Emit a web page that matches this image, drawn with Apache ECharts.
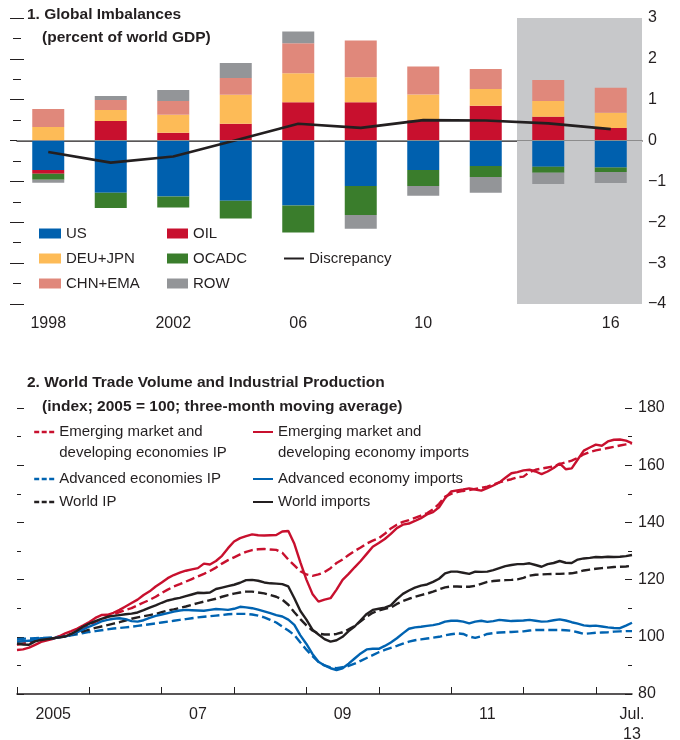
<!DOCTYPE html>
<html>
<head>
<meta charset="utf-8">
<script src="https://cdn.jsdelivr.net/npm/echarts@6/dist/echarts.min.js"></script>
<style>
  html, body { margin: 0; padding: 0; background: #fff; }
  #main { width: 680px; height: 740px; }
</style>
</head>
<body>
<div id="main"></div>
<script>
var FONT = "'Liberation Sans', Arial, sans-serif";
var INK = '#231f20';

// ---- panel 1: global imbalances (percent of world GDP)
var years = ['1998', '2000', '2002', '2004', '2006', '2008', '2010', '2012', '2014', '2016'];
var yearLabels = { '1998': '1998', '2002': '2002', '2006': '06', '2010': '10', '2016': '16' };
var us = [-0.72, -1.28, -1.37, -1.47, -1.59, -1.11, -0.72, -0.62, -0.64, -0.66];
var oil = [-0.09, 0.48, 0.19, 0.41, 0.94, 0.94, 0.50, 0.85, 0.58, 0.31];
var deuJpn = [0.33, 0.27, 0.44, 0.71, 0.71, 0.61, 0.63, 0.41, 0.39, 0.37];
var ocadc = [-0.15, -0.37, -0.27, -0.44, -0.66, -0.71, -0.39, -0.27, -0.15, -0.11];
var chnEma = [0.44, 0.24, 0.34, 0.41, 0.73, 0.90, 0.68, 0.49, 0.51, 0.61];
var rowBal = [-0.07, 0.10, 0.27, 0.37, 0.29, -0.34, -0.24, -0.39, -0.27, -0.27];
var discrepancy = [-0.28, -0.54, -0.39, 0.01, 0.41, 0.31, 0.50, 0.49, 0.42, 0.28];

// ---- panel 2: trade volume and IP, monthly Jan 2005 - Jul 2013
var months = [];
for (var y = 2005; y <= 2013; y++) {
  for (var m = 1; m <= 12; m++) {
    if (y === 2013 && m > 7) break;
    months.push(y + '-' + (m < 10 ? '0' : '') + m);
  }
}
var monthLabels = { 6: '2005', 30: '07', 54: '09', 78: '11', 102: 'Jul.\n13' };

var emImports = [
  95.4, 95.6, 96.2, 97.2, 98.2, 98.8, 99.3, 100.2, 101.2, 102.0, 102.9, 104.0,
  105.2, 106.6, 107.6, 107.7, 108.4, 109.4, 110.6, 111.8, 113.0, 114.6, 115.9, 117.6,
  119.0, 120.5, 121.6, 122.4, 123.1, 123.6, 124.0, 125.6, 125.3, 126.5, 128.3, 131.0,
  133.3, 134.5, 135.2, 135.8, 135.5, 135.4, 135.5, 135.6, 136.8, 137.0, 132.5, 126.0,
  120.0, 115.0, 112.3, 113.0, 113.5, 116.5, 119.9, 122.0, 124.3, 126.5, 129.0, 131.5,
  132.8, 134.2, 136.0, 138.0, 139.2, 139.6, 140.5, 141.5, 142.8, 143.6, 145.3, 148.5,
  150.8, 151.2, 151.5, 151.9, 151.5, 151.1, 152.0, 152.9, 154.0, 155.6, 157.2, 157.6,
  158.2, 158.4, 157.8, 156.9, 157.8, 159.0, 160.6, 158.6, 158.9, 162.0, 165.1, 166.2,
  167.2, 166.8, 168.3, 168.9, 169.0, 168.6, 167.7
];
var emIP = [
  97.2, 97.6, 98.0, 98.6, 99.0, 99.3, 99.6, 99.8, 100.2, 101.0, 101.8, 102.8,
  104.0, 105.2, 106.2, 107.0, 107.8, 108.6, 109.4, 110.0, 111.0, 112.0, 112.9, 114.0,
  115.3, 116.5, 117.6, 118.4, 119.3, 120.2, 121.1, 122.0, 123.0, 124.2, 125.6, 126.8,
  127.8, 128.8, 129.7, 130.3, 130.6, 130.7, 130.5, 130.4, 129.4, 127.0, 125.0, 122.9,
  121.8, 121.3, 121.8, 122.6, 124.0, 125.8, 127.0, 128.6, 130.0, 131.2, 132.6, 133.6,
  134.5, 136.0, 137.9, 139.2, 140.2, 140.8, 141.6, 142.4, 143.2, 144.6, 146.5, 149.0,
  150.0, 150.6, 151.0, 151.3, 151.7, 152.1, 152.5, 153.2, 154.0, 154.6, 155.1, 155.8,
  156.0, 157.6, 158.4, 158.8, 159.2, 159.6, 160.4, 161.0, 161.6, 162.6, 163.8, 164.6,
  165.2, 165.6, 166.0, 166.4, 166.9, 167.3, 167.7
];
var aeImports = [
  98.3, 98.5, 98.6, 99.2, 99.5, 99.5, 99.5, 99.8, 100.1, 100.8, 101.6, 102.6,
  103.6, 104.4, 105.4, 105.9, 106.3, 106.5, 106.2, 105.5, 105.3, 105.8, 106.6, 107.3,
  107.8, 108.3, 108.8, 109.2, 109.4, 109.3, 109.2, 109.1, 109.4, 109.7, 109.6, 109.4,
  109.8, 110.5, 110.3, 110.0, 109.5, 108.9, 108.3, 107.6, 107.1, 106.0, 104.2, 100.5,
  97.5, 94.0, 91.3, 90.0, 89.0, 88.4, 89.0, 90.6, 92.4, 94.2, 95.6, 95.8,
  95.8, 96.8, 98.0, 99.5, 101.2, 102.8, 103.3, 103.5, 103.8, 104.1, 104.5, 105.3,
  105.6, 105.6, 105.3, 104.7, 105.3, 105.6, 105.2, 105.5, 105.9, 105.7, 105.5, 105.6,
  105.7, 105.9, 105.6, 105.3, 105.4, 105.8, 106.1, 105.7, 105.1, 104.6, 104.0, 103.8,
  103.9, 103.6, 103.3, 103.1, 103.0, 103.9, 104.9
];
var aeIP = [
  99.2, 99.3, 99.4, 99.5, 99.6, 99.7, 99.8, 100.0, 100.2, 100.5, 100.9, 101.3,
  101.7, 102.0, 102.3, 102.6, 102.9, 103.1, 103.3, 103.5, 103.8, 104.1, 104.4, 104.7,
  105.0, 105.3, 105.6, 105.9, 106.2, 106.5, 106.8, 107.0, 107.2, 107.4, 107.6, 107.9,
  108.0, 108.0, 108.0, 107.8, 107.4, 106.8, 105.9, 105.0, 103.6, 102.2, 100.6, 98.0,
  95.5, 93.2, 91.2, 90.0, 89.3, 89.0, 89.4, 89.8, 90.6, 91.6, 92.6, 93.6,
  94.6, 95.4, 96.1, 96.8, 97.6, 98.3, 98.8, 99.1, 99.4, 99.7, 100.0, 100.5,
  100.9, 101.2, 101.0, 100.1, 99.6, 100.2, 101.0, 101.3, 101.5, 101.6, 101.7, 101.8,
  101.9, 102.2, 102.4, 102.4, 102.4, 102.4, 102.4, 102.3, 102.1, 101.6, 101.0, 101.2,
  101.4, 101.5, 101.6, 101.8, 101.9, 102.0, 102.0
];
var worldImports = [
  97.6, 97.3, 97.2, 98.4, 98.9, 99.2, 99.5, 99.8, 100.1, 101.0, 102.2, 103.6,
  104.6, 105.5, 106.3, 107.0, 107.3, 107.6, 107.9, 108.1, 108.5, 109.3, 110.2, 111.0,
  111.9, 112.7, 113.2, 113.6, 114.2, 114.8, 115.4, 115.3, 115.5, 116.7, 117.2, 117.7,
  118.2, 118.9, 119.8, 119.9, 119.6, 119.0, 118.7, 118.6, 118.4, 117.6, 113.5, 109.0,
  106.0, 102.5, 100.8, 99.2, 98.3, 98.8, 100.0, 102.0, 103.6, 105.8, 108.0, 109.4,
  109.8, 110.2, 111.0, 113.2, 115.0, 116.2, 117.2, 117.9, 118.3, 119.2, 120.3, 122.2,
  122.8, 122.8, 122.4, 122.0, 122.8, 122.7, 122.8, 123.3, 124.0, 124.7, 125.1, 125.4,
  125.4, 125.7, 125.1, 124.5, 125.4, 125.8, 126.5, 125.9, 125.8, 127.0, 127.4, 127.6,
  127.9, 127.8, 128.0, 127.9, 128.0, 128.2, 128.6
];
var worldIP = [
  98.3, 98.4, 98.6, 98.8, 99.0, 99.3, 99.6, 99.9, 100.2, 100.8, 101.4, 101.9,
  102.5, 103.1, 103.6, 104.1, 104.6, 105.1, 105.7, 106.3, 106.8, 107.2, 107.6, 108.0,
  108.6, 109.2, 109.6, 110.1, 110.6, 111.2, 111.8, 112.3, 112.8, 113.3, 114.0, 114.6,
  115.1, 115.5, 115.8, 115.8, 115.5, 115.2, 114.6, 114.0, 113.0, 111.2, 108.6, 106.2,
  104.0, 102.2, 101.1, 100.8, 100.8, 101.0, 101.6, 102.6, 103.8, 105.4, 107.0, 108.4,
  109.2, 109.8, 110.2, 111.5, 112.5, 113.3, 114.0, 114.6, 115.1, 115.8, 116.6, 117.3,
  117.6, 117.6, 117.5, 117.5, 117.8, 118.5, 119.2, 119.5, 119.7, 119.8, 119.9, 120.1,
  120.6, 121.4, 121.7, 121.8, 121.9, 122.0, 122.0, 122.1, 122.2, 122.6, 123.2, 123.5,
  123.8, 124.0, 124.2, 124.4, 124.5, 124.6, 124.8
];

var RED = '#c8102e', BLUE = '#0063b1', BLACK = '#231f20';
var DASH = [9, 4];

var chart = echarts.init(document.getElementById('main'));

function barSeries(name, data, color) {
  return {
    name: name, type: 'bar', stack: 'bal', data: data,
    xAxisIndex: 0, yAxisIndex: 0, barWidth: 32,
    itemStyle: { color: color }
  };
}
function lineSeries(name, data, color, dashed) {
  return {
    name: name, type: 'line', data: data,
    xAxisIndex: 1, yAxisIndex: 2,
    symbol: 'none', showSymbol: false,
    lineStyle: { color: color, width: 2.4, type: dashed ? DASH : 'solid' },
    itemStyle: { color: color }
  };
}
// the legend line icon always carries a marker; hide it so only the line shows
var noMarker = { opacity: 0, color: 'rgba(0,0,0,0)', borderWidth: 0 };
function legendBox(left, top, items, extra) {
  var o = {
    left: left, top: top, orient: 'vertical', padding: 0,
    selectedMode: false, data: items,
    textStyle: { fontFamily: FONT, fontSize: 15, lineHeight: 21, color: INK }
  };
  for (var k in extra) o[k] = extra[k];
  return o;
}
function lineLegend(left, top, item, twoLines) {
  var o = legendBox(left, top, [item], { itemWidth: 20, itemHeight: 14, itemStyle: noMarker });
  if (twoLines) o.formatter = function (n) { return '\u00a0\n' + n; };
  return o;
}
var dashIcon = { type: [5, 2.5], width: 2.4 };

var minus = function (v) { return String(v).replace('-', '\u2212'); };
var titleStyle = { fontFamily: FONT, fontSize: 15.5, fontWeight: 'bold', color: INK };

var option = {
  animation: false,
  backgroundColor: '#fff',
  textStyle: { fontFamily: FONT, color: INK },
  title: [
    { text: '1. Global Imbalances', left: 27, top: 7, padding: 0, textStyle: titleStyle },
    { text: '(percent of world GDP)', left: 42, top: 30, padding: 0, textStyle: titleStyle },
    { text: '2. World Trade Volume and Industrial Production', left: 27, top: 375, padding: 0, textStyle: titleStyle },
    { text: '(index; 2005 = 100; three-month moving average)', left: 42, top: 399, padding: 0, textStyle: titleStyle }
  ],
  legend: [
    legendBox(39, 226, ['US', 'DEU+JPN', 'CHN+EMA'],
      { icon: 'rect', itemWidth: 22, itemHeight: 10, itemGap: 10,
        textStyle: { fontFamily: FONT, fontSize: 15, lineHeight: 15, color: INK } }),
    legendBox(167, 226, ['OIL', 'OCADC', 'ROW'],
      { icon: 'rect', itemWidth: 21, itemHeight: 10, itemGap: 10,
        textStyle: { fontFamily: FONT, fontSize: 15, lineHeight: 15, color: INK } }),
    legendBox(283, 251, ['Discrepancy'],
      { itemWidth: 20, itemHeight: 10, itemStyle: noMarker,
        textStyle: { fontFamily: FONT, fontSize: 15, lineHeight: 15, color: INK } }),
    lineLegend(33, 400.5, { name: 'Emerging market and\ndeveloping economies IP', lineStyle: dashIcon }, true),
    lineLegend(33, 468.5, { name: 'Advanced economies IP', lineStyle: dashIcon }),
    lineLegend(33, 491.5, { name: 'World IP', lineStyle: dashIcon }),
    lineLegend(252, 400.5, 'Emerging market and\ndeveloping economy imports', true),
    lineLegend(252, 468.5, 'Advanced economy imports'),
    lineLegend(252, 491.5, 'World imports')
  ],
  grid: [
    { left: 17, right: 38, top: 18, height: 286, containLabel: false, outerBoundsMode: 'none' },
    { left: 17, right: 48, top: 408, height: 286, containLabel: false, outerBoundsMode: 'none' }
  ],
  xAxis: [
    {
      type: 'category', gridIndex: 0, data: years,
      axisLine: { lineStyle: { color: INK, width: 1.5 } },
      axisTick: { inside: true, length: 7, alignWithLabel: true, interval: 0, lineStyle: { color: INK } },
      axisLabel: { interval: 0, margin: 12, fontSize: 16, color: INK, fontFamily: FONT,
        formatter: function (v) { return yearLabels[v] || ''; } },
      splitLine: { show: false }
    },
    {
      type: 'category', gridIndex: 1, data: months, boundaryGap: false,
      axisLine: { lineStyle: { color: INK, width: 1.5 } },
      axisTick: { inside: true, length: 7, lineStyle: { color: INK },
        interval: function (i) { return i % 12 === 0; } },
      axisLabel: { margin: 11, fontSize: 16, lineHeight: 20, color: INK, fontFamily: FONT,
        interval: function (i) { return monthLabels[i] !== undefined; },
        formatter: function (v, i) { return monthLabels[i] || ''; } },
      splitLine: { show: false }
    },
    { type: 'value', gridIndex: 0, min: 0, max: 10, show: false }
  ],
  yAxis: [
    {
      type: 'value', gridIndex: 0, position: 'right', min: -4, max: 3, interval: 1,
      axisLine: { show: false },
      axisTick: { show: true, inside: true, length: 7, lineStyle: { color: INK } },
      minorTick: { show: true, splitNumber: 2, length: 4, lineStyle: { color: INK } },
      axisLabel: { margin: 6, fontSize: 16, color: INK, fontFamily: FONT, formatter: minus },
      splitLine: { show: false }
    },
    {
      type: 'value', gridIndex: 0, position: 'left', min: -4, max: 3, interval: 1,
      axisLine: { show: false },
      axisTick: { show: true, inside: true, length: 7, lineStyle: { color: INK } },
      minorTick: { show: true, splitNumber: 2, length: 4, lineStyle: { color: INK } },
      axisLabel: { show: false },
      splitLine: { show: false }
    },
    {
      type: 'value', gridIndex: 1, position: 'right', min: 80, max: 180, interval: 20,
      axisLine: { show: false },
      axisTick: { show: true, inside: true, length: 7, lineStyle: { color: INK } },
      minorTick: { show: true, splitNumber: 2, length: 4, lineStyle: { color: INK } },
      axisLabel: { margin: 6, fontSize: 16, color: INK, fontFamily: FONT },
      splitLine: { show: false }
    },
    {
      type: 'value', gridIndex: 1, position: 'left', min: 80, max: 180, interval: 20,
      axisLine: { show: false },
      axisTick: { show: true, inside: true, length: 7, lineStyle: { color: INK } },
      minorTick: { show: true, splitNumber: 2, length: 4, lineStyle: { color: INK } },
      axisLabel: { show: false },
      splitLine: { show: false }
    }
  ],
  series: [
    {
      name: 'projection', type: 'line', xAxisIndex: 2, yAxisIndex: 0, data: [],
      markArea: { silent: true, itemStyle: { color: '#c7c8ca' },
        data: [[{ xAxis: 8 }, { xAxis: 10 }]] }
    },
    barSeries('US', us, '#0060ae'),
    barSeries('OIL', oil, '#c8102e'),
    barSeries('DEU+JPN', deuJpn, '#fdbb57'),
    barSeries('OCADC', ocadc, '#3a7d2c'),
    barSeries('CHN+EMA', chnEma, '#e0887b'),
    barSeries('ROW', rowBal, '#939598'),
    {
      name: 'Discrepancy', type: 'line', data: discrepancy,
      xAxisIndex: 0, yAxisIndex: 0, symbol: 'none', showSymbol: false, z: 4,
      lineStyle: { color: BLACK, width: 2.6 }, itemStyle: { color: BLACK },
      markLine: { silent: true, symbol: ['none', 'none'], label: { show: false },
        lineStyle: { color: '#8c8c8c', width: 1, type: 'solid' },
        data: [{ yAxis: 0 }] }
    },
    lineSeries('Emerging market and\ndeveloping economies IP', emIP, RED, true),
    lineSeries('Advanced economies IP', aeIP, BLUE, true),
    lineSeries('World IP', worldIP, BLACK, true),
    lineSeries('Emerging market and\ndeveloping economy imports', emImports, RED, false),
    lineSeries('Advanced economy imports', aeImports, BLUE, false),
    lineSeries('World imports', worldImports, BLACK, false)
  ]
};

chart.setOption(option);
</script>
</body>
</html>
